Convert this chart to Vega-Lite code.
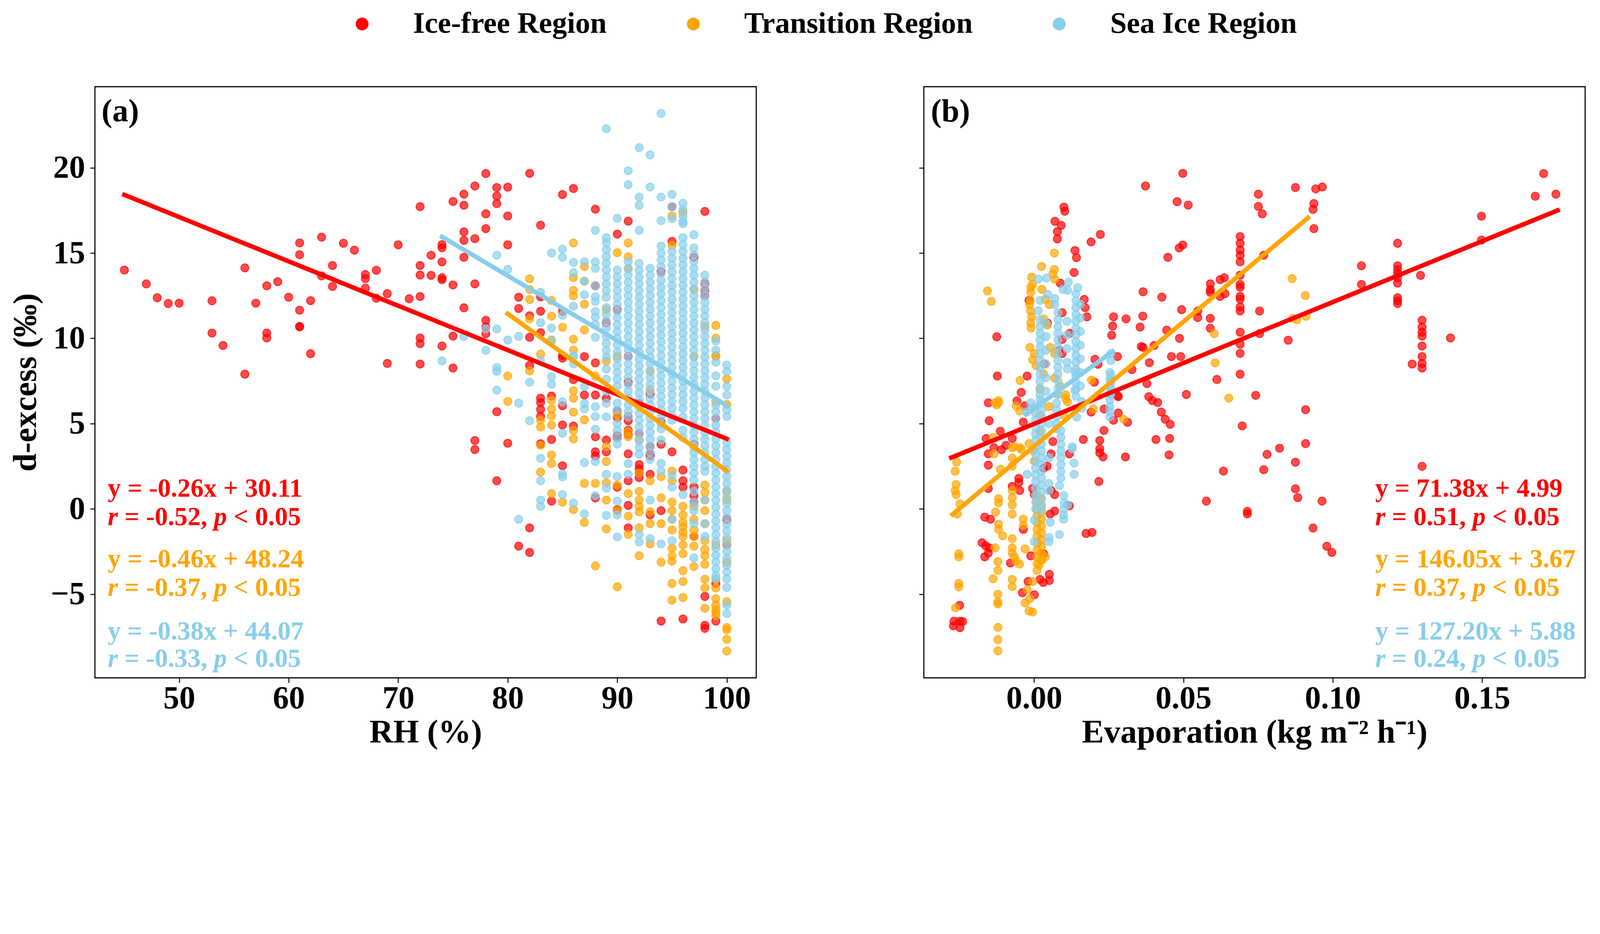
{
  "$schema": "https://vega.github.io/schema/vega-lite/v6.json",
  "description": "d-excess against RH and evaporation for three sea-ice regions, with linear fits.",
  "background": "white",
  "padding": {"left": 22, "top": 23, "right": 10, "bottom": 10},
  "spacing": 412,
  "datasets": {
    "a": [
      {"g":"I","x":45,"y":14.0},{"g":"I","x":47,"y":13.19},{"g":"I","x":48,"y":12.38},{"g":"I","x":49,"y":12.04},{"g":"I","x":50,"y":12.06},
      {"g":"I","x":53,"y":12.2},{"g":"I","x":53,"y":10.31},{"g":"I","x":54,"y":9.58},{"g":"I","x":56,"y":14.13},{"g":"I","x":56,"y":7.9},
      {"g":"I","x":57,"y":12.06},{"g":"I","x":58,"y":13.08},{"g":"I","x":58,"y":10.31},{"g":"I","x":58,"y":10.02},{"g":"I","x":59,"y":13.32},
      {"g":"I","x":60,"y":12.41},{"g":"I","x":61,"y":15.59},{"g":"I","x":61,"y":14.9},{"g":"I","x":61,"y":11.65},{"g":"I","x":61,"y":10.7},
      {"g":"I","x":61,"y":10.67},{"g":"I","x":62,"y":12.21},{"g":"I","x":62,"y":9.1},{"g":"I","x":63,"y":15.93},{"g":"I","x":63,"y":13.66},
      {"g":"I","x":64,"y":14.27},{"g":"I","x":64,"y":13.04},{"g":"I","x":65,"y":15.57},{"g":"I","x":66,"y":15.17},{"g":"I","x":67,"y":13.74},
      {"g":"I","x":67,"y":13.5},{"g":"I","x":67,"y":12.94},{"g":"I","x":68,"y":13.99},{"g":"I","x":68,"y":12.35},{"g":"I","x":69,"y":12.62},
      {"g":"I","x":69,"y":8.53},{"g":"I","x":70,"y":15.48},{"g":"I","x":71,"y":12.32},{"g":"I","x":72,"y":17.72},{"g":"I","x":72,"y":14.27},
      {"g":"I","x":72,"y":13.71},{"g":"I","x":72,"y":12.45},{"g":"I","x":72,"y":10.02},{"g":"I","x":72,"y":9.69},{"g":"I","x":72,"y":8.49},
      {"g":"I","x":73,"y":14.87},{"g":"I","x":73,"y":13.69},{"g":"I","x":74,"y":15.49},{"g":"I","x":74,"y":15.31},{"g":"I","x":74,"y":14.48},
      {"g":"I","x":74,"y":13.55},{"g":"I","x":74,"y":13.44},{"g":"I","x":74,"y":9.55},{"g":"I","x":75,"y":18.02},{"g":"I","x":75,"y":13.13},
      {"g":"I","x":75,"y":10.13},{"g":"I","x":75,"y":8.26},{"g":"I","x":76,"y":18.45},{"g":"I","x":76,"y":17.8},{"g":"I","x":76,"y":16.24},
      {"g":"I","x":76,"y":15.74},{"g":"I","x":76,"y":14.75},{"g":"I","x":76,"y":11.79},{"g":"I","x":77,"y":18.93},{"g":"I","x":77,"y":15.84},
      {"g":"I","x":77,"y":13.19},{"g":"I","x":77,"y":4.01},{"g":"I","x":77,"y":3.48},{"g":"I","x":78,"y":19.66},{"g":"I","x":78,"y":17.3},
      {"g":"I","x":78,"y":16.43},{"g":"I","x":78,"y":11.05},{"g":"I","x":78,"y":10.67},{"g":"I","x":78,"y":10.27},{"g":"I","x":79,"y":18.84},
      {"g":"I","x":79,"y":18.34},{"g":"I","x":79,"y":17.9},{"g":"I","x":79,"y":5.7},{"g":"I","x":79,"y":1.65},{"g":"I","x":80,"y":18.86},
      {"g":"I","x":80,"y":17.17},{"g":"I","x":80,"y":15.48},{"g":"I","x":80,"y":3.85},{"g":"I","x":81,"y":12.41},{"g":"I","x":81,"y":11.75},
      {"g":"I","x":81,"y":-2.18},{"g":"I","x":82,"y":19.67},{"g":"I","x":82,"y":11.32},{"g":"I","x":82,"y":10.06},{"g":"I","x":82,"y":8.41},
      {"g":"I","x":82,"y":-1.11},{"g":"I","x":82,"y":-2.55},{"g":"I","x":83,"y":16.63},{"g":"I","x":83,"y":12.43},{"g":"I","x":83,"y":11.59},
      {"g":"I","x":83,"y":10.33},{"g":"I","x":83,"y":6.49},{"g":"I","x":83,"y":6.24},{"g":"I","x":83,"y":5.83},{"g":"I","x":83,"y":5.42},
      {"g":"I","x":83,"y":3.82},{"g":"I","x":84,"y":6.62},{"g":"I","x":84,"y":4.07},{"g":"I","x":84,"y":0.46},{"g":"I","x":85,"y":18.43},
      {"g":"I","x":85,"y":11.59},{"g":"I","x":85,"y":8.99},{"g":"I","x":85,"y":8.84},{"g":"I","x":85,"y":6.05},{"g":"I","x":85,"y":4.92},
      {"g":"I","x":85,"y":2.53},{"g":"I","x":86,"y":18.78},{"g":"I","x":86,"y":7.58},{"g":"I","x":86,"y":4.86},{"g":"I","x":87,"y":8.93},
      {"g":"I","x":87,"y":6.68},{"g":"I","x":88,"y":17.57},{"g":"I","x":88,"y":13.08},{"g":"I","x":88,"y":8.56},{"g":"I","x":88,"y":6.68},
      {"g":"I","x":88,"y":4.23},{"g":"I","x":88,"y":3.35},{"g":"I","x":88,"y":3.1},{"g":"I","x":88,"y":0.65},{"g":"I","x":89,"y":10.92},
      {"g":"I","x":89,"y":6.49},{"g":"I","x":89,"y":4.04},{"g":"I","x":89,"y":3.35},{"g":"I","x":90,"y":16.11},{"g":"I","x":90,"y":11.68},
      {"g":"I","x":90,"y":5.74},{"g":"I","x":90,"y":5.36},{"g":"I","x":90,"y":4.29},{"g":"I","x":90,"y":4.17},{"g":"I","x":90,"y":1.28},
      {"g":"I","x":90,"y":-0.04},{"g":"I","x":91,"y":16.87},{"g":"I","x":91,"y":8.94},{"g":"I","x":91,"y":7.43},{"g":"I","x":91,"y":5.42},
      {"g":"I","x":91,"y":5.17},{"g":"I","x":91,"y":4.61},{"g":"I","x":91,"y":4.36},{"g":"I","x":91,"y":3.23},{"g":"I","x":91,"y":1.65},
      {"g":"I","x":91,"y":0.21},{"g":"I","x":91,"y":-1.11},{"g":"I","x":92,"y":6.18},{"g":"I","x":92,"y":4.42},{"g":"I","x":92,"y":2.6},
      {"g":"I","x":92,"y":2.35},{"g":"I","x":92,"y":2.09},{"g":"I","x":92,"y":1.84},{"g":"I","x":93,"y":6.74},{"g":"I","x":93,"y":3.66},
      {"g":"I","x":93,"y":3.23},{"g":"I","x":93,"y":3.1},{"g":"I","x":93,"y":2.03},{"g":"I","x":93,"y":-0.35},{"g":"I","x":94,"y":13.9},
      {"g":"I","x":94,"y":5.11},{"g":"I","x":94,"y":3.79},{"g":"I","x":94,"y":-0.1},{"g":"I","x":94,"y":-6.57},{"g":"I","x":95,"y":17.71},
      {"g":"I","x":95,"y":15.68},{"g":"I","x":95,"y":3.35},{"g":"I","x":96,"y":2.28},{"g":"I","x":96,"y":1.65},{"g":"I","x":96,"y":1.28},
      {"g":"I","x":96,"y":-6.45},{"g":"I","x":97,"y":14.75},{"g":"I","x":97,"y":3.79},{"g":"I","x":97,"y":1.28},{"g":"I","x":97,"y":0.78},
      {"g":"I","x":97,"y":0.4},{"g":"I","x":97,"y":-1.61},{"g":"I","x":98,"y":17.44},{"g":"I","x":98,"y":13.22},{"g":"I","x":98,"y":12.81},
      {"g":"I","x":98,"y":12.49},{"g":"I","x":98,"y":-5.13},{"g":"I","x":98,"y":-6.82},{"g":"I","x":98,"y":-7.0},{"g":"I","x":99,"y":5.3},
      {"g":"I","x":99,"y":-4.37},{"g":"I","x":99,"y":-6.57},{"g":"I","x":100,"y":-0.61},{"g":"I","x":100,"y":-2.11},

      {"g":"T","x":80,"y":7.79},{"g":"T","x":80,"y":6.3},
      {"g":"T","x":82,"y":13.49},{"g":"T","x":82,"y":12.86},{"g":"T","x":82,"y":12.27},{"g":"T","x":82,"y":11.14},{"g":"T","x":82,"y":8.09},
      {"g":"T","x":83,"y":9.07},{"g":"T","x":83,"y":5.2},{"g":"T","x":83,"y":4.8},{"g":"T","x":83,"y":3.73},{"g":"T","x":83,"y":2.16},
      {"g":"T","x":84,"y":12.22},{"g":"T","x":84,"y":11.3},{"g":"T","x":84,"y":9.9},{"g":"T","x":84,"y":6.37},{"g":"T","x":84,"y":5.86},
      {"g":"T","x":84,"y":5.45},{"g":"T","x":84,"y":4.92},{"g":"T","x":84,"y":3.16},{"g":"T","x":84,"y":2.66},{"g":"T","x":84,"y":0.9},
      {"g":"T","x":85,"y":10.65},{"g":"T","x":85,"y":0.4},
      {"g":"T","x":86,"y":15.59},{"g":"T","x":86,"y":13.56},{"g":"T","x":86,"y":12.81},{"g":"T","x":86,"y":12.49},{"g":"T","x":86,"y":9.95},
      {"g":"T","x":86,"y":9.31},{"g":"T","x":86,"y":6.93},{"g":"T","x":86,"y":6.49},{"g":"T","x":86,"y":5.67},{"g":"T","x":86,"y":4.61},
      {"g":"T","x":86,"y":4.11},{"g":"T","x":86,"y":-0.04},
      {"g":"T","x":87,"y":14.21},{"g":"T","x":87,"y":13.35},{"g":"T","x":87,"y":12.0},{"g":"T","x":87,"y":10.49},{"g":"T","x":87,"y":5.23},
      {"g":"T","x":87,"y":1.5},{"g":"T","x":87,"y":-0.79},
      {"g":"T","x":88,"y":7.79},{"g":"T","x":88,"y":1.5},{"g":"T","x":88,"y":-3.34},
      {"g":"T","x":89,"y":11.68},{"g":"T","x":89,"y":8.66},{"g":"T","x":89,"y":3.66},{"g":"T","x":89,"y":2.78},{"g":"T","x":89,"y":1.53},
      {"g":"T","x":89,"y":0.52},{"g":"T","x":89,"y":-1.17},
      {"g":"T","x":90,"y":15.02},{"g":"T","x":90,"y":8.94},{"g":"T","x":90,"y":5.49},{"g":"T","x":90,"y":1.4},{"g":"T","x":90,"y":-0.1},
      {"g":"T","x":90,"y":-4.56},
      {"g":"T","x":91,"y":15.59},{"g":"T","x":91,"y":14.78},{"g":"T","x":91,"y":14.07},{"g":"T","x":91,"y":4.54},{"g":"T","x":91,"y":4.23},
      {"g":"T","x":91,"y":0.9},{"g":"T","x":91,"y":-0.42},{"g":"T","x":91,"y":-1.49},
      {"g":"T","x":92,"y":4.04},{"g":"T","x":92,"y":2.09},{"g":"T","x":92,"y":1.03},{"g":"T","x":92,"y":0.52},{"g":"T","x":92,"y":0.15},
      {"g":"T","x":92,"y":-0.17},{"g":"T","x":92,"y":-1.11},{"g":"T","x":92,"y":-2.74},
      {"g":"T","x":93,"y":8.06},{"g":"T","x":93,"y":6.99},{"g":"T","x":93,"y":1.65},{"g":"T","x":93,"y":-0.17},{"g":"T","x":93,"y":-0.86},
      {"g":"T","x":93,"y":-2.05},
      {"g":"T","x":94,"y":1.9},{"g":"T","x":94,"y":0.65},{"g":"T","x":94,"y":-0.86},{"g":"T","x":94,"y":-3.12},
      {"g":"T","x":95,"y":17.17},{"g":"T","x":95,"y":15.45},{"g":"T","x":95,"y":2.22},{"g":"T","x":95,"y":1.65},{"g":"T","x":95,"y":0.4},
      {"g":"T","x":95,"y":-0.1},{"g":"T","x":95,"y":-0.61},{"g":"T","x":95,"y":-1.23},{"g":"T","x":95,"y":-2.3},{"g":"T","x":95,"y":-2.74},
      {"g":"T","x":95,"y":-3.06},{"g":"T","x":95,"y":-4.37},{"g":"T","x":95,"y":-5.35},
      {"g":"T","x":96,"y":17.39},{"g":"T","x":96,"y":0.15},{"g":"T","x":96,"y":-0.35},{"g":"T","x":96,"y":-0.79},{"g":"T","x":96,"y":-1.05},
      {"g":"T","x":96,"y":-1.36},{"g":"T","x":96,"y":-1.61},{"g":"T","x":96,"y":-2.11},{"g":"T","x":96,"y":-2.62},{"g":"T","x":96,"y":-3.62},
      {"g":"T","x":96,"y":-4.25},{"g":"T","x":96,"y":-5.19},
      {"g":"T","x":97,"y":12.86},{"g":"T","x":97,"y":8.94},{"g":"T","x":97,"y":3.66},{"g":"T","x":97,"y":0.15},{"g":"T","x":97,"y":-0.61},
      {"g":"T","x":97,"y":-1.23},{"g":"T","x":97,"y":-1.61},{"g":"T","x":97,"y":-2.18},{"g":"T","x":97,"y":-3.37},
      {"g":"T","x":98,"y":10.71},{"g":"T","x":98,"y":1.4},{"g":"T","x":98,"y":0.96},{"g":"T","x":98,"y":0.52},{"g":"T","x":98,"y":-0.1},
      {"g":"T","x":98,"y":-0.86},{"g":"T","x":98,"y":-1.86},{"g":"T","x":98,"y":-2.37},{"g":"T","x":98,"y":-2.74},{"g":"T","x":98,"y":-3.24},
      {"g":"T","x":98,"y":-4.12},{"g":"T","x":98,"y":-4.63},{"g":"T","x":98,"y":-5.82},
      {"g":"T","x":99,"y":10.76},{"g":"T","x":99,"y":10.01},{"g":"T","x":99,"y":8.99},{"g":"T","x":99,"y":8.94},{"g":"T","x":99,"y":6.3},
      {"g":"T","x":99,"y":-2.11},{"g":"T","x":99,"y":-4.12},{"g":"T","x":99,"y":-4.63},{"g":"T","x":99,"y":-5.26},{"g":"T","x":99,"y":-5.63},
      {"g":"T","x":99,"y":-5.89},{"g":"T","x":99,"y":-6.07},{"g":"T","x":99,"y":-6.25},
      {"g":"T","x":100,"y":7.62},{"g":"T","x":100,"y":6.12},{"g":"T","x":100,"y":1.03},{"g":"T","x":100,"y":0.52},{"g":"T","x":100,"y":-1.86},
      {"g":"T","x":100,"y":-3.12},{"g":"T","x":100,"y":-5.44},{"g":"T","x":100,"y":-6.95},{"g":"T","x":100,"y":-7.08},{"g":"T","x":100,"y":-7.64},
      {"g":"T","x":100,"y":-8.33},

      {"g":"S","x":74,"y":8.68},{"g":"S","x":76,"y":10.1},{"g":"S","x":78,"y":10.56},{"g":"S","x":78,"y":9.3},
      {"g":"S","x":79,"y":14.87},{"g":"S","x":79,"y":10.55},{"g":"S","x":79,"y":8.29},{"g":"S","x":79,"y":8.07},{"g":"S","x":79,"y":6.97},
      {"g":"S","x":80,"y":14.05},{"g":"S","x":80,"y":9.9},
      {"g":"S","x":81,"y":10.12},{"g":"S","x":81,"y":6.2},{"g":"S","x":81,"y":-0.61},
      {"g":"S","x":82,"y":7.43},{"g":"S","x":82,"y":5.17},
      {"g":"S","x":83,"y":12.7},{"g":"S","x":83,"y":10.92},{"g":"S","x":83,"y":8.69},{"g":"S","x":83,"y":2.97},{"g":"S","x":83,"y":1.65},
      {"g":"S","x":83,"y":0.52},{"g":"S","x":83,"y":0.15},
      {"g":"S","x":84,"y":15.0},{"g":"S","x":84,"y":10.6},{"g":"S","x":84,"y":9.85},{"g":"S","x":84,"y":7.75},{"g":"S","x":84,"y":7.31},
      {"g":"S","x":85,"y":15.23},{"g":"S","x":85,"y":14.75},{"g":"S","x":85,"y":11.35},{"g":"S","x":85,"y":6.28},{"g":"S","x":85,"y":4.44},
      {"g":"S","x":85,"y":2.06},{"g":"S","x":85,"y":1.88},{"g":"S","x":85,"y":0.84},
      {"g":"S","x":86,"y":14.45},{"g":"S","x":86,"y":13.85},{"g":"S","x":86,"y":11.89},{"g":"S","x":86,"y":8.99},{"g":"S","x":86,"y":8.92},
      {"g":"S","x":86,"y":8.5},{"g":"S","x":86,"y":0.34},
      {"g":"S","x":87,"y":14.48},{"g":"S","x":87,"y":13.35},{"g":"S","x":87,"y":12.56},{"g":"S","x":87,"y":7.18},{"g":"S","x":87,"y":6.18},
      {"g":"S","x":87,"y":5.86},{"g":"S","x":87,"y":2.72},{"g":"S","x":87,"y":-0.29},
      {"g":"S","x":88,"y":16.33},{"g":"S","x":88,"y":14.48},{"g":"S","x":88,"y":14.1},{"g":"S","x":88,"y":13.08},{"g":"S","x":88,"y":12.43},
      {"g":"S","x":88,"y":12.16},{"g":"S","x":88,"y":11.57},{"g":"S","x":88,"y":11.25},{"g":"S","x":88,"y":10.82},{"g":"S","x":88,"y":10.06},
      {"g":"S","x":88,"y":5.99},{"g":"S","x":88,"y":5.42},{"g":"S","x":88,"y":4.67},{"g":"S","x":88,"y":2.78},{"g":"S","x":88,"y":0.78},
      {"g":"S","x":89,"y":22.29},{"g":"S","x":89,"y":15.9},{"g":"S","x":89,"y":15.6},{"g":"S","x":89,"y":15.2},{"g":"S","x":89,"y":14.8},
      {"g":"S","x":89,"y":14.4},{"g":"S","x":89,"y":14.0},{"g":"S","x":89,"y":13.6},{"g":"S","x":89,"y":13.2},{"g":"S","x":89,"y":12.8},
      {"g":"S","x":89,"y":12.4},{"g":"S","x":89,"y":11.8},{"g":"S","x":89,"y":11.4},{"g":"S","x":89,"y":11.0},{"g":"S","x":89,"y":10.6},
      {"g":"S","x":89,"y":10.1},{"g":"S","x":89,"y":9.7},{"g":"S","x":89,"y":9.3},{"g":"S","x":89,"y":8.9},{"g":"S","x":89,"y":8.2},
      {"g":"S","x":89,"y":7.6},{"g":"S","x":89,"y":6.9},{"g":"S","x":89,"y":6.2},{"g":"S","x":89,"y":5.4},{"g":"S","x":89,"y":2.03},
      {"g":"S","x":89,"y":1.22},{"g":"S","x":89,"y":-0.38},
      {"g":"S","x":90,"y":17.04},{"g":"S","x":90,"y":14.0},{"g":"S","x":90,"y":13.6},{"g":"S","x":90,"y":13.2},{"g":"S","x":90,"y":12.8},
      {"g":"S","x":90,"y":12.4},{"g":"S","x":90,"y":12.0},{"g":"S","x":90,"y":11.6},{"g":"S","x":90,"y":11.2},{"g":"S","x":90,"y":10.8},
      {"g":"S","x":90,"y":10.4},{"g":"S","x":90,"y":10.0},{"g":"S","x":90,"y":9.6},{"g":"S","x":90,"y":9.2},{"g":"S","x":90,"y":8.8},
      {"g":"S","x":90,"y":8.4},{"g":"S","x":90,"y":8.0},{"g":"S","x":90,"y":7.6},{"g":"S","x":90,"y":7.2},{"g":"S","x":90,"y":6.2},
      {"g":"S","x":90,"y":5.8},{"g":"S","x":90,"y":5.0},{"g":"S","x":90,"y":4.6},{"g":"S","x":90,"y":4.2},{"g":"S","x":90,"y":3.8},
      {"g":"S","x":90,"y":1.9},{"g":"S","x":90,"y":0.46},{"g":"S","x":90,"y":-0.35},{"g":"S","x":90,"y":-1.64},
      {"g":"S","x":91,"y":19.82},{"g":"S","x":91,"y":19.0},{"g":"S","x":91,"y":14.5},{"g":"S","x":91,"y":14.1},{"g":"S","x":91,"y":13.7},
      {"g":"S","x":91,"y":13.3},{"g":"S","x":91,"y":12.9},{"g":"S","x":91,"y":12.5},{"g":"S","x":91,"y":12.1},{"g":"S","x":91,"y":11.7},
      {"g":"S","x":91,"y":11.3},{"g":"S","x":91,"y":10.9},{"g":"S","x":91,"y":10.5},{"g":"S","x":91,"y":10.1},{"g":"S","x":91,"y":9.7},
      {"g":"S","x":91,"y":9.3},{"g":"S","x":91,"y":8.9},{"g":"S","x":91,"y":8.5},{"g":"S","x":91,"y":8.1},{"g":"S","x":91,"y":7.7},
      {"g":"S","x":91,"y":7.3},{"g":"S","x":91,"y":6.9},{"g":"S","x":91,"y":6.5},{"g":"S","x":91,"y":6.1},{"g":"S","x":91,"y":5.7},
      {"g":"S","x":91,"y":5.4},{"g":"S","x":91,"y":2.66},{"g":"S","x":91,"y":2.03},
      {"g":"S","x":92,"y":21.18},{"g":"S","x":92,"y":18.28},{"g":"S","x":92,"y":17.79},{"g":"S","x":92,"y":16.33},{"g":"S","x":92,"y":14.4},
      {"g":"S","x":92,"y":14.0},{"g":"S","x":92,"y":13.6},{"g":"S","x":92,"y":13.2},{"g":"S","x":92,"y":12.8},{"g":"S","x":92,"y":12.4},
      {"g":"S","x":92,"y":12.0},{"g":"S","x":92,"y":11.6},{"g":"S","x":92,"y":11.2},{"g":"S","x":92,"y":10.8},{"g":"S","x":92,"y":10.4},
      {"g":"S","x":92,"y":10.0},{"g":"S","x":92,"y":9.6},{"g":"S","x":92,"y":9.2},{"g":"S","x":92,"y":8.8},{"g":"S","x":92,"y":8.4},
      {"g":"S","x":92,"y":8.0},{"g":"S","x":92,"y":7.6},{"g":"S","x":92,"y":7.2},{"g":"S","x":92,"y":6.8},{"g":"S","x":92,"y":6.4},
      {"g":"S","x":92,"y":6.0},{"g":"S","x":92,"y":5.6},{"g":"S","x":92,"y":5.2},{"g":"S","x":92,"y":4.8},{"g":"S","x":92,"y":4.4},
      {"g":"S","x":92,"y":4.0},{"g":"S","x":92,"y":3.6},{"g":"S","x":92,"y":3.2},{"g":"S","x":92,"y":-1.49},{"g":"S","x":92,"y":-1.93},
      {"g":"S","x":93,"y":20.75},{"g":"S","x":93,"y":18.87},{"g":"S","x":93,"y":14.1},{"g":"S","x":93,"y":13.7},{"g":"S","x":93,"y":13.3},
      {"g":"S","x":93,"y":12.9},{"g":"S","x":93,"y":12.5},{"g":"S","x":93,"y":12.1},{"g":"S","x":93,"y":11.7},{"g":"S","x":93,"y":11.3},
      {"g":"S","x":93,"y":10.9},{"g":"S","x":93,"y":10.5},{"g":"S","x":93,"y":10.1},{"g":"S","x":93,"y":9.7},{"g":"S","x":93,"y":9.3},
      {"g":"S","x":93,"y":8.9},{"g":"S","x":93,"y":8.5},{"g":"S","x":93,"y":8.1},{"g":"S","x":93,"y":7.7},{"g":"S","x":93,"y":7.3},
      {"g":"S","x":93,"y":6.9},{"g":"S","x":93,"y":6.5},{"g":"S","x":93,"y":6.1},{"g":"S","x":93,"y":5.7},{"g":"S","x":93,"y":5.3},
      {"g":"S","x":93,"y":4.9},{"g":"S","x":93,"y":4.5},{"g":"S","x":93,"y":4.1},{"g":"S","x":93,"y":3.7},{"g":"S","x":93,"y":3.3},
      {"g":"S","x":93,"y":2.9},{"g":"S","x":93,"y":0.52},{"g":"S","x":93,"y":-1.74},
      {"g":"S","x":94,"y":23.18},{"g":"S","x":94,"y":18.28},{"g":"S","x":94,"y":16.9},{"g":"S","x":94,"y":15.41},{"g":"S","x":94,"y":15.0},
      {"g":"S","x":94,"y":14.6},{"g":"S","x":94,"y":14.2},{"g":"S","x":94,"y":13.8},{"g":"S","x":94,"y":13.4},{"g":"S","x":94,"y":13.0},
      {"g":"S","x":94,"y":12.6},{"g":"S","x":94,"y":12.2},{"g":"S","x":94,"y":11.8},{"g":"S","x":94,"y":11.4},{"g":"S","x":94,"y":11.0},
      {"g":"S","x":94,"y":10.6},{"g":"S","x":94,"y":10.2},{"g":"S","x":94,"y":9.8},{"g":"S","x":94,"y":9.4},{"g":"S","x":94,"y":9.0},
      {"g":"S","x":94,"y":8.6},{"g":"S","x":94,"y":8.2},{"g":"S","x":94,"y":7.8},{"g":"S","x":94,"y":7.4},{"g":"S","x":94,"y":7.0},
      {"g":"S","x":94,"y":6.6},{"g":"S","x":94,"y":6.2},{"g":"S","x":94,"y":5.8},{"g":"S","x":94,"y":5.4},{"g":"S","x":94,"y":5.0},
      {"g":"S","x":94,"y":4.7},{"g":"S","x":94,"y":4.04},{"g":"S","x":94,"y":2.66},{"g":"S","x":94,"y":2.22},{"g":"S","x":94,"y":-2.05},
      {"g":"S","x":95,"y":18.44},{"g":"S","x":95,"y":17.71},{"g":"S","x":95,"y":17.01},{"g":"S","x":95,"y":15.1},{"g":"S","x":95,"y":14.7},
      {"g":"S","x":95,"y":14.3},{"g":"S","x":95,"y":13.9},{"g":"S","x":95,"y":13.5},{"g":"S","x":95,"y":13.1},{"g":"S","x":95,"y":12.7},
      {"g":"S","x":95,"y":12.3},{"g":"S","x":95,"y":11.9},{"g":"S","x":95,"y":11.5},{"g":"S","x":95,"y":11.1},{"g":"S","x":95,"y":10.7},
      {"g":"S","x":95,"y":10.3},{"g":"S","x":95,"y":9.9},{"g":"S","x":95,"y":9.5},{"g":"S","x":95,"y":9.1},{"g":"S","x":95,"y":8.7},
      {"g":"S","x":95,"y":8.3},{"g":"S","x":95,"y":7.9},{"g":"S","x":95,"y":7.5},{"g":"S","x":95,"y":7.1},{"g":"S","x":95,"y":6.7},
      {"g":"S","x":95,"y":6.3},{"g":"S","x":95,"y":5.9},{"g":"S","x":95,"y":5.5},{"g":"S","x":95,"y":5.2},{"g":"S","x":95,"y":1.97},
      {"g":"S","x":95,"y":1.28},{"g":"S","x":95,"y":-0.61},{"g":"S","x":95,"y":-1.86},
      {"g":"S","x":96,"y":17.92},{"g":"S","x":96,"y":17.55},{"g":"S","x":96,"y":17.17},{"g":"S","x":96,"y":16.85},{"g":"S","x":96,"y":16.72},
      {"g":"S","x":96,"y":15.9},{"g":"S","x":96,"y":15.5},{"g":"S","x":96,"y":15.1},{"g":"S","x":96,"y":14.7},{"g":"S","x":96,"y":14.3},
      {"g":"S","x":96,"y":13.9},{"g":"S","x":96,"y":13.5},{"g":"S","x":96,"y":13.1},{"g":"S","x":96,"y":12.7},{"g":"S","x":96,"y":12.3},
      {"g":"S","x":96,"y":11.9},{"g":"S","x":96,"y":11.5},{"g":"S","x":96,"y":11.1},{"g":"S","x":96,"y":10.7},{"g":"S","x":96,"y":10.3},
      {"g":"S","x":96,"y":9.9},{"g":"S","x":96,"y":9.5},{"g":"S","x":96,"y":9.1},{"g":"S","x":96,"y":8.7},{"g":"S","x":96,"y":8.3},
      {"g":"S","x":96,"y":7.9},{"g":"S","x":96,"y":7.5},{"g":"S","x":96,"y":7.1},{"g":"S","x":96,"y":6.7},{"g":"S","x":96,"y":6.3},
      {"g":"S","x":96,"y":5.9},{"g":"S","x":96,"y":5.4},{"g":"S","x":96,"y":4.61},{"g":"S","x":96,"y":4.17},{"g":"S","x":96,"y":0.84},
      {"g":"S","x":97,"y":16.07},{"g":"S","x":97,"y":15.3},{"g":"S","x":97,"y":14.9},{"g":"S","x":97,"y":14.5},{"g":"S","x":97,"y":14.1},
      {"g":"S","x":97,"y":13.7},{"g":"S","x":97,"y":13.3},{"g":"S","x":97,"y":12.9},{"g":"S","x":97,"y":12.5},{"g":"S","x":97,"y":12.1},
      {"g":"S","x":97,"y":11.7},{"g":"S","x":97,"y":11.3},{"g":"S","x":97,"y":10.9},{"g":"S","x":97,"y":10.5},{"g":"S","x":97,"y":10.1},
      {"g":"S","x":97,"y":9.7},{"g":"S","x":97,"y":9.3},{"g":"S","x":97,"y":8.9},{"g":"S","x":97,"y":8.5},{"g":"S","x":97,"y":8.1},
      {"g":"S","x":97,"y":7.7},{"g":"S","x":97,"y":7.3},{"g":"S","x":97,"y":6.9},{"g":"S","x":97,"y":6.5},{"g":"S","x":97,"y":6.1},
      {"g":"S","x":97,"y":5.7},{"g":"S","x":97,"y":5.3},{"g":"S","x":97,"y":4.9},{"g":"S","x":97,"y":4.5},{"g":"S","x":97,"y":4.1},
      {"g":"S","x":97,"y":3.7},{"g":"S","x":97,"y":3.3},{"g":"S","x":97,"y":2.9},{"g":"S","x":97,"y":2.5},{"g":"S","x":97,"y":2.1},
      {"g":"S","x":97,"y":1.7},{"g":"S","x":97,"y":1.03},{"g":"S","x":97,"y":0.4},{"g":"S","x":97,"y":-0.1},{"g":"S","x":97,"y":-0.86},
      {"g":"S","x":97,"y":-2.87},
      {"g":"S","x":98,"y":13.7},{"g":"S","x":98,"y":13.3},{"g":"S","x":98,"y":12.9},{"g":"S","x":98,"y":12.5},{"g":"S","x":98,"y":12.1},
      {"g":"S","x":98,"y":11.7},{"g":"S","x":98,"y":11.3},{"g":"S","x":98,"y":10.9},{"g":"S","x":98,"y":10.5},{"g":"S","x":98,"y":10.1},
      {"g":"S","x":98,"y":9.7},{"g":"S","x":98,"y":9.3},{"g":"S","x":98,"y":8.9},{"g":"S","x":98,"y":8.5},{"g":"S","x":98,"y":8.1},
      {"g":"S","x":98,"y":7.7},{"g":"S","x":98,"y":7.3},{"g":"S","x":98,"y":6.9},{"g":"S","x":98,"y":6.5},{"g":"S","x":98,"y":6.1},
      {"g":"S","x":98,"y":5.7},{"g":"S","x":98,"y":5.3},{"g":"S","x":98,"y":4.9},{"g":"S","x":98,"y":4.5},{"g":"S","x":98,"y":4.1},
      {"g":"S","x":98,"y":3.7},{"g":"S","x":98,"y":3.3},{"g":"S","x":98,"y":2.9},{"g":"S","x":98,"y":2.5},{"g":"S","x":98,"y":2.2},
      {"g":"S","x":98,"y":0.52},{"g":"S","x":98,"y":-0.86},{"g":"S","x":98,"y":-1.61},
      {"g":"S","x":99,"y":9.85},{"g":"S","x":99,"y":9.3},{"g":"S","x":99,"y":8.6},{"g":"S","x":99,"y":7.8},{"g":"S","x":99,"y":7.2},
      {"g":"S","x":99,"y":6.1},{"g":"S","x":99,"y":5.7},{"g":"S","x":99,"y":5.3},{"g":"S","x":99,"y":4.9},{"g":"S","x":99,"y":4.5},
      {"g":"S","x":99,"y":4.1},{"g":"S","x":99,"y":3.7},{"g":"S","x":99,"y":3.3},{"g":"S","x":99,"y":2.9},{"g":"S","x":99,"y":2.5},
      {"g":"S","x":99,"y":2.1},{"g":"S","x":99,"y":1.7},{"g":"S","x":99,"y":1.3},{"g":"S","x":99,"y":0.9},{"g":"S","x":99,"y":0.5},
      {"g":"S","x":99,"y":0.1},{"g":"S","x":99,"y":-0.3},{"g":"S","x":99,"y":-0.7},{"g":"S","x":99,"y":-1.1},{"g":"S","x":99,"y":-1.5},
      {"g":"S","x":99,"y":-1.9},{"g":"S","x":99,"y":-2.3},{"g":"S","x":99,"y":-2.7},{"g":"S","x":99,"y":-3.1},{"g":"S","x":99,"y":-3.5},
      {"g":"S","x":99,"y":-3.9},{"g":"S","x":99,"y":-4.1},
      {"g":"S","x":100,"y":8.44},{"g":"S","x":100,"y":8.06},{"g":"S","x":100,"y":7.18},{"g":"S","x":100,"y":6.68},{"g":"S","x":100,"y":5.8},
      {"g":"S","x":100,"y":5.42},{"g":"S","x":100,"y":3.9},{"g":"S","x":100,"y":3.5},{"g":"S","x":100,"y":3.1},{"g":"S","x":100,"y":2.7},
      {"g":"S","x":100,"y":2.3},{"g":"S","x":100,"y":1.9},{"g":"S","x":100,"y":1.5},{"g":"S","x":100,"y":1.1},{"g":"S","x":100,"y":0.7},
      {"g":"S","x":100,"y":0.3},{"g":"S","x":100,"y":-0.1},{"g":"S","x":100,"y":-0.5},{"g":"S","x":100,"y":-0.9},{"g":"S","x":100,"y":-1.3},
      {"g":"S","x":100,"y":-1.7},{"g":"S","x":100,"y":-2.1},{"g":"S","x":100,"y":-2.5},{"g":"S","x":100,"y":-2.9},{"g":"S","x":100,"y":-3.3},
      {"g":"S","x":100,"y":-3.7},{"g":"S","x":100,"y":-4.1},{"g":"S","x":100,"y":-4.6},{"g":"S","x":100,"y":-5.63},{"g":"S","x":100,"y":-6.13}
    ],
    "b": [
      {"g":"I","x":0.0498,"y":19.67},{"g":"I","x":0.0373,"y":18.93},{"g":"I","x":0.0479,"y":18.01},{"g":"I","x":0.0516,"y":17.81},
      {"g":"I","x":0.01,"y":17.69},{"g":"I","x":0.0103,"y":17.45},{"g":"I","x":0.007,"y":16.86},{"g":"I","x":0.0091,"y":16.62},
      {"g":"I","x":0.0078,"y":16.25},{"g":"I","x":0.0078,"y":15.83},{"g":"I","x":0.0222,"y":16.09},{"g":"I","x":0.0191,"y":15.65},
      {"g":"I","x":0.0137,"y":15.15},{"g":"I","x":0.0142,"y":14.73},{"g":"I","x":0.0498,"y":15.47},{"g":"I","x":0.0486,"y":15.3},
      {"g":"I","x":0.0448,"y":14.75},{"g":"I","x":0.0134,"y":13.86},{"g":"I","x":0.0365,"y":12.73},{"g":"I","x":0.0428,"y":12.42},
      {"g":"I","x":0.0494,"y":11.68},{"g":"I","x":0.0364,"y":11.3},{"g":"I","x":0.0308,"y":11.14},{"g":"I","x":0.0266,"y":11.26},
      {"g":"I","x":0.0263,"y":10.72},{"g":"I","x":0.026,"y":10.18},{"g":"I","x":0.0355,"y":10.66},{"g":"I","x":0.0444,"y":10.48},
      {"g":"I","x":0.0487,"y":10.0},{"g":"I","x":0.0359,"y":9.52},{"g":"I","x":0.0365,"y":9.47},{"g":"I","x":0.0402,"y":9.58},
      {"g":"I","x":0.046,"y":8.93},{"g":"I","x":0.0491,"y":8.93},{"g":"I","x":0.0279,"y":8.93},{"g":"I","x":0.0204,"y":8.77},
      {"g":"I","x":0.0214,"y":8.48},{"g":"I","x":0.0386,"y":8.57},{"g":"I","x":0.0328,"y":8.17},{"g":"I","x":0.0378,"y":7.35},
      {"g":"I","x":0.0168,"y":12.28},{"g":"I","x":0.0171,"y":11.8},{"g":"I","x":0.0177,"y":11.26},{"g":"I","x":-0.0125,"y":10.09},
      {"g":"I","x":-0.0123,"y":7.79},{"g":"I","x":0.0202,"y":7.43},{"g":"I","x":0.0088,"y":13.23},{"g":"I","x":0.0094,"y":11.5},
      {"g":"I","x":0.0094,"y":9.94},{"g":"I","x":0.0094,"y":9.11},{"g":"I","x":-0.0017,"y":12.22},{"g":"I","x":-0.0023,"y":7.79},
      {"g":"I","x":-0.0043,"y":6.83},{"g":"I","x":0.051,"y":6.71},{"g":"I","x":0.0279,"y":6.65},{"g":"I","x":0.0396,"y":6.35},
      {"g":"I","x":0.0045,"y":10.9},{"g":"I","x":0.0085,"y":9.3},{"g":"I","x":0.012,"y":10.3},{"g":"I","x":0.0035,"y":8.5},
      {"g":"I","x":0.1706,"y":19.66},{"g":"I","x":0.1678,"y":18.33},{"g":"I","x":0.1747,"y":18.45},{"g":"I","x":0.1498,"y":17.16},
      {"g":"I","x":0.1498,"y":15.76},{"g":"I","x":0.0875,"y":18.84},{"g":"I","x":0.0943,"y":18.76},{"g":"I","x":0.0965,"y":18.87},
      {"g":"I","x":0.0937,"y":17.9},{"g":"I","x":0.0934,"y":17.56},{"g":"I","x":0.0937,"y":16.43},{"g":"I","x":0.0751,"y":18.45},
      {"g":"I","x":0.0751,"y":17.73},{"g":"I","x":0.0764,"y":17.3},{"g":"I","x":0.069,"y":15.96},{"g":"I","x":0.069,"y":15.57},
      {"g":"I","x":0.069,"y":15.18},{"g":"I","x":0.069,"y":14.87},{"g":"I","x":0.069,"y":14.48},{"g":"I","x":0.069,"y":13.7},
      {"g":"I","x":0.069,"y":13.16},{"g":"I","x":0.069,"y":13.0},{"g":"I","x":0.069,"y":12.46},{"g":"I","x":0.069,"y":12.3},
      {"g":"I","x":0.069,"y":11.84},{"g":"I","x":0.069,"y":11.6},{"g":"I","x":0.069,"y":10.36},{"g":"I","x":0.069,"y":9.66},
      {"g":"I","x":0.069,"y":9.12},{"g":"I","x":0.069,"y":7.9},{"g":"I","x":0.0769,"y":14.87},{"g":"I","x":0.0637,"y":13.55},
      {"g":"I","x":0.0623,"y":13.44},{"g":"I","x":0.059,"y":13.19},{"g":"I","x":0.059,"y":12.85},{"g":"I","x":0.059,"y":12.7},
      {"g":"I","x":0.059,"y":11.17},{"g":"I","x":0.059,"y":10.59},{"g":"I","x":0.0623,"y":12.46},{"g":"I","x":0.0639,"y":12.62},
      {"g":"I","x":0.0548,"y":11.6},{"g":"I","x":0.0548,"y":11.22},{"g":"I","x":0.0755,"y":11.6},{"g":"I","x":0.0755,"y":10.28},
      {"g":"I","x":0.0851,"y":9.89},{"g":"I","x":0.0612,"y":7.59},{"g":"I","x":0.0742,"y":6.66},{"g":"I","x":0.1096,"y":14.25},
      {"g":"I","x":0.1096,"y":13.16},{"g":"I","x":0.1217,"y":15.57},{"g":"I","x":0.1217,"y":14.25},{"g":"I","x":0.1217,"y":14.02},
      {"g":"I","x":0.1217,"y":13.78},{"g":"I","x":0.1217,"y":13.55},{"g":"I","x":0.1217,"y":13.24},{"g":"I","x":0.1217,"y":12.38},
      {"g":"I","x":0.1217,"y":12.2},{"g":"I","x":0.1217,"y":12.04},{"g":"I","x":0.1294,"y":13.69},{"g":"I","x":0.1299,"y":11.06},
      {"g":"I","x":0.1299,"y":10.67},{"g":"I","x":0.1299,"y":10.36},{"g":"I","x":0.1299,"y":10.13},{"g":"I","x":0.1299,"y":9.55},
      {"g":"I","x":0.1299,"y":8.93},{"g":"I","x":0.1299,"y":8.53},{"g":"I","x":0.1299,"y":8.26},{"g":"I","x":0.1299,"y":2.5},
      {"g":"I","x":0.1266,"y":8.49},{"g":"I","x":0.1394,"y":10.02},{"g":"I","x":0.0909,"y":5.82},{"g":"I","x":0.0909,"y":3.83},
      {"g":"I","x":0.0697,"y":4.87},{"g":"I","x":0.0822,"y":3.56},{"g":"I","x":0.078,"y":3.2},{"g":"I","x":0.0875,"y":2.74},
      {"g":"I","x":0.0875,"y":1.18},{"g":"I","x":0.0769,"y":2.3},{"g":"I","x":0.0634,"y":2.22},{"g":"I","x":0.0883,"y":0.66},
      {"g":"I","x":0.0964,"y":0.46},{"g":"I","x":0.0577,"y":0.46},{"g":"I","x":0.0714,"y":-0.14},{"g":"I","x":0.0714,"y":-0.29},
      {"g":"I","x":0.0934,"y":-1.12},{"g":"I","x":0.098,"y":-2.19},{"g":"I","x":0.0997,"y":-2.55},
      {"g":"I","x":-0.0153,"y":6.22},{"g":"I","x":-0.015,"y":5.17},{"g":"I","x":-0.016,"y":4.13},{"g":"I","x":-0.0153,"y":3.23},
      {"g":"I","x":-0.0153,"y":2.57},{"g":"I","x":-0.0153,"y":1.2},{"g":"I","x":-0.0113,"y":4.55},{"g":"I","x":-0.0134,"y":3.59},
      {"g":"I","x":-0.0109,"y":3.47},{"g":"I","x":-0.0094,"y":3.73},{"g":"I","x":-0.0073,"y":4.13},{"g":"I","x":-0.0057,"y":6.34},
      {"g":"I","x":-0.0031,"y":6.04},{"g":"I","x":-0.0036,"y":5.09},{"g":"I","x":-0.0073,"y":1.32},{"g":"I","x":-0.0051,"y":1.79},
      {"g":"I","x":-0.0051,"y":1.55},{"g":"I","x":-0.0048,"y":1.08},{"g":"I","x":-0.0165,"y":-0.48},{"g":"I","x":-0.0146,"y":-0.6},
      {"g":"I","x":-0.0174,"y":-1.98},{"g":"I","x":-0.0162,"y":-2.16},{"g":"I","x":-0.015,"y":-2.28},{"g":"I","x":-0.0153,"y":-2.58},
      {"g":"I","x":-0.0165,"y":-2.81},{"g":"I","x":-0.0249,"y":-5.65},{"g":"I","x":-0.0268,"y":-6.58},{"g":"I","x":-0.027,"y":-6.85},
      {"g":"I","x":-0.0248,"y":-6.58},{"g":"I","x":-0.0239,"y":-6.6},{"g":"I","x":-0.0248,"y":-6.96},{"g":"I","x":-0.0036,"y":-1.2},
      {"g":"I","x":-0.0011,"y":-2.75},{"g":"I","x":-0.0079,"y":-3.17},{"g":"I","x":-0.002,"y":-4.25},{"g":"I","x":-0.0039,"y":-4.91},
      {"g":"I","x":0.0001,"y":-5.03},{"g":"I","x":0.002,"y":-4.13},{"g":"I","x":0.0031,"y":-4.31},{"g":"I","x":0.0051,"y":-3.83},
      {"g":"I","x":0.0051,"y":-4.19},{"g":"I","x":0.0032,"y":-2.63},{"g":"I","x":-0.0005,"y":1.2},{"g":"I","x":0.0001,"y":0.84},
      {"g":"I","x":0.0057,"y":1.08},{"g":"I","x":0.0069,"y":0.84},{"g":"I","x":0.0069,"y":-0.12},{"g":"I","x":0.0054,"y":-0.3},
      {"g":"I","x":0.0032,"y":2.39},{"g":"I","x":0.0044,"y":2.51},{"g":"I","x":0.0057,"y":3.23},{"g":"I","x":0.0063,"y":3.95},
      {"g":"I","x":0.0118,"y":3.23},{"g":"I","x":0.0118,"y":0.18},{"g":"I","x":0.0165,"y":4.07},{"g":"I","x":0.0174,"y":-1.44},
      {"g":"I","x":0.0194,"y":-1.38},{"g":"I","x":0.0191,"y":5.68},{"g":"I","x":0.0217,"y":1.61},{"g":"I","x":0.022,"y":4.01},
      {"g":"I","x":0.022,"y":3.53},{"g":"I","x":0.022,"y":3.29},{"g":"I","x":0.0231,"y":3.05},{"g":"I","x":0.0234,"y":4.6},
      {"g":"I","x":0.0235,"y":5.86},{"g":"I","x":0.0266,"y":5.2},{"g":"I","x":0.0282,"y":6.58},{"g":"I","x":0.0282,"y":5.62},
      {"g":"I","x":0.0306,"y":3.05},{"g":"I","x":0.0313,"y":5.08},{"g":"I","x":0.0384,"y":6.58},{"g":"I","x":0.0414,"y":6.24},
      {"g":"I","x":0.0426,"y":5.68},{"g":"I","x":0.0439,"y":5.26},{"g":"I","x":0.0456,"y":4.96},{"g":"I","x":0.0408,"y":4.07},
      {"g":"I","x":0.0454,"y":4.13},{"g":"I","x":0.0452,"y":3.17},

      {"g":"T","x":-0.0156,"y":12.78},{"g":"T","x":-0.0143,"y":12.16},{"g":"T","x":0.0068,"y":15.0},{"g":"T","x":0.0025,"y":14.21},
      {"g":"T","x":0.0068,"y":14.04},{"g":"T","x":0.0063,"y":13.77},{"g":"T","x":0.0069,"y":13.47},{"g":"T","x":-0.0008,"y":13.59},
      {"g":"T","x":-0.0005,"y":13.17},{"g":"T","x":-0.0011,"y":12.99},{"g":"T","x":-0.0011,"y":12.7},{"g":"T","x":0.0026,"y":12.87},
      {"g":"T","x":-0.0012,"y":12.22},{"g":"T","x":-0.0015,"y":11.98},{"g":"T","x":-0.0012,"y":11.62},{"g":"T","x":0.0038,"y":12.28},
      {"g":"T","x":0.0051,"y":11.98},{"g":"T","x":-0.0008,"y":11.26},{"g":"T","x":-0.0011,"y":10.9},{"g":"T","x":-0.001,"y":10.6},
      {"g":"T","x":0.0032,"y":11.14},{"g":"T","x":0.0044,"y":10.78},{"g":"T","x":-0.0014,"y":9.47},{"g":"T","x":0.0001,"y":9.11},
      {"g":"T","x":-0.0005,"y":8.75},{"g":"T","x":0.0007,"y":8.39},{"g":"T","x":0.0054,"y":9.47},{"g":"T","x":0.0069,"y":9.11},
      {"g":"T","x":0.0032,"y":7.91},{"g":"T","x":0.0069,"y":7.67},{"g":"T","x":0.0088,"y":7.19},{"g":"T","x":-0.0047,"y":7.53},
      {"g":"T","x":0.0192,"y":7.55},{"g":"T","x":0.0078,"y":6.71},{"g":"T","x":0.0106,"y":6.47},{"g":"T","x":-0.0119,"y":6.35},
      {"g":"T","x":-0.0259,"y":2.75},{"g":"T","x":-0.0264,"y":2.21},{"g":"T","x":-0.0261,"y":1.43},{"g":"T","x":-0.0264,"y":1.07},
      {"g":"T","x":-0.0261,"y":0.84},{"g":"T","x":-0.0248,"y":0.3},{"g":"T","x":-0.0257,"y":-0.3},{"g":"T","x":-0.0252,"y":-2.63},
      {"g":"T","x":-0.0252,"y":-2.81},{"g":"T","x":-0.0252,"y":-4.37},{"g":"T","x":-0.0252,"y":-4.57},{"g":"T","x":-0.0263,"y":-5.8},
      {"g":"T","x":-0.0125,"y":6.1},{"g":"T","x":-0.0137,"y":4.19},{"g":"T","x":-0.0134,"y":3.23},{"g":"T","x":-0.0113,"y":2.33},
      {"g":"T","x":-0.0119,"y":0.6},{"g":"T","x":-0.0119,"y":0.36},{"g":"T","x":-0.0129,"y":-0.18},{"g":"T","x":-0.0119,"y":-0.9},
      {"g":"T","x":-0.0119,"y":-1.2},{"g":"T","x":-0.0105,"y":-1.58},{"g":"T","x":-0.013,"y":-2.28},{"g":"T","x":-0.0121,"y":-3.09},
      {"g":"T","x":-0.0121,"y":-3.6},{"g":"T","x":-0.0137,"y":-4.09},{"g":"T","x":-0.0121,"y":-5.0},{"g":"T","x":-0.0121,"y":-5.45},
      {"g":"T","x":-0.0121,"y":-5.57},{"g":"T","x":-0.0121,"y":-6.94},{"g":"T","x":-0.0121,"y":-7.66},{"g":"T","x":-0.0121,"y":-8.32},
      {"g":"T","x":-0.0073,"y":3.59},{"g":"T","x":-0.0073,"y":2.99},{"g":"T","x":-0.0073,"y":2.51},{"g":"T","x":-0.006,"y":6.04},
      {"g":"T","x":-0.0048,"y":5.74},{"g":"T","x":-0.0073,"y":1.07},{"g":"T","x":-0.0073,"y":0.66},{"g":"T","x":-0.0073,"y":0.24},
      {"g":"T","x":-0.0073,"y":-0.3},{"g":"T","x":-0.0073,"y":-1.74},{"g":"T","x":-0.0073,"y":-2.28},{"g":"T","x":-0.0073,"y":-2.58},
      {"g":"T","x":-0.0066,"y":-2.81},{"g":"T","x":-0.006,"y":-3.05},{"g":"T","x":-0.0049,"y":-3.23},{"g":"T","x":-0.0073,"y":-4.13},
      {"g":"T","x":-0.0073,"y":-4.55},{"g":"T","x":-0.0036,"y":-0.6},{"g":"T","x":-0.0036,"y":-0.96},{"g":"T","x":-0.003,"y":-5.51},
      {"g":"T","x":-0.0017,"y":-5.98},{"g":"T","x":-0.0005,"y":-6.04},{"g":"T","x":-0.0023,"y":-4.73},{"g":"T","x":-0.0005,"y":-4.25},
      {"g":"T","x":-0.0014,"y":-5.27},{"g":"T","x":-0.003,"y":-2.34},
      {"g":"T","x":0.001,"y":0.8},{"g":"T","x":0.001,"y":0.4},{"g":"T","x":0.001,"y":0.0},{"g":"T","x":0.001,"y":-0.4},
      {"g":"T","x":0.001,"y":-0.8},{"g":"T","x":0.001,"y":-1.2},{"g":"T","x":0.001,"y":-1.6},{"g":"T","x":0.001,"y":-2.0},
      {"g":"T","x":0.001,"y":-2.4},{"g":"T","x":0.001,"y":-2.8},{"g":"T","x":0.001,"y":-3.2},{"g":"T","x":0.001,"y":-3.6},
      {"g":"T","x":0.0025,"y":0.6},{"g":"T","x":0.0025,"y":0.2},{"g":"T","x":0.0025,"y":-0.2},{"g":"T","x":0.0025,"y":-0.6},
      {"g":"T","x":0.0025,"y":-1.0},{"g":"T","x":0.0025,"y":-1.4},{"g":"T","x":0.0025,"y":-1.8},{"g":"T","x":0.0025,"y":-2.2},
      {"g":"T","x":0.0025,"y":-2.6},{"g":"T","x":0.0025,"y":-3.0},{"g":"T","x":0.0017,"y":-3.29},{"g":"T","x":0.0026,"y":-2.99},
      {"g":"T","x":0.0038,"y":-2.81},{"g":"T","x":-0.0066,"y":3.65},{"g":"T","x":-0.0048,"y":3.59},{"g":"T","x":-0.0042,"y":3.49},
      {"g":"T","x":0.0106,"y":6.7},{"g":"T","x":0.0112,"y":6.28},{"g":"T","x":0.0099,"y":5.5},{"g":"T","x":0.0198,"y":5.86},
      {"g":"T","x":0.03,"y":5.26},{"g":"T","x":-0.0017,"y":3.83},{"g":"T","x":-0.0002,"y":3.41},{"g":"T","x":0.0001,"y":2.81},
      {"g":"T","x":-0.0131,"y":6.22},{"g":"T","x":-0.0119,"y":6.24},{"g":"T","x":0.002,"y":4.5},{"g":"T","x":0.002,"y":5.5},
      {"g":"T","x":0.002,"y":7.0},{"g":"T","x":0.005,"y":6.0},
      {"g":"T","x":0.0864,"y":13.5},{"g":"T","x":0.0908,"y":12.51},{"g":"T","x":0.0866,"y":11.17},{"g":"T","x":0.088,"y":11.09},
      {"g":"T","x":0.0911,"y":11.29},{"g":"T","x":0.0603,"y":10.27},{"g":"T","x":0.0606,"y":8.56},{"g":"T","x":0.0652,"y":6.5},

      {"g":"S","x":0.0014,"y":13.47},{"g":"S","x":0.0041,"y":13.53},{"g":"S","x":0.0115,"y":13.29},{"g":"S","x":0.0112,"y":12.82},
      {"g":"S","x":0.0146,"y":12.97},{"g":"S","x":0.0097,"y":12.87},{"g":"S","x":0.0045,"y":12.58},{"g":"S","x":0.0069,"y":12.34},
      {"g":"S","x":0.0069,"y":11.98},{"g":"S","x":0.002,"y":12.22},{"g":"S","x":0.0014,"y":11.62},
      {"g":"S","x":0.002,"y":11.1},{"g":"S","x":0.002,"y":10.7},{"g":"S","x":0.002,"y":10.3},{"g":"S","x":0.002,"y":9.9},
      {"g":"S","x":0.002,"y":9.5},{"g":"S","x":0.002,"y":9.1},{"g":"S","x":0.002,"y":8.7},{"g":"S","x":0.002,"y":8.3},
      {"g":"S","x":0.002,"y":7.9},{"g":"S","x":0.002,"y":7.5},{"g":"S","x":0.002,"y":7.1},{"g":"S","x":0.002,"y":6.7},
      {"g":"S","x":0.002,"y":6.4},
      {"g":"S","x":0.004,"y":10.9},{"g":"S","x":0.004,"y":10.1},{"g":"S","x":0.004,"y":9.3},{"g":"S","x":0.004,"y":8.5},
      {"g":"S","x":0.004,"y":7.7},{"g":"S","x":0.004,"y":6.9},
      {"g":"S","x":0.008,"y":11.5},{"g":"S","x":0.008,"y":11.1},{"g":"S","x":0.008,"y":10.7},{"g":"S","x":0.008,"y":10.3},
      {"g":"S","x":0.008,"y":9.9},{"g":"S","x":0.008,"y":9.5},{"g":"S","x":0.008,"y":9.1},{"g":"S","x":0.008,"y":8.7},
      {"g":"S","x":0.008,"y":8.3},{"g":"S","x":0.008,"y":7.9},{"g":"S","x":0.008,"y":7.5},{"g":"S","x":0.008,"y":7.1},
      {"g":"S","x":0.008,"y":6.7},
      {"g":"S","x":0.014,"y":12.6},{"g":"S","x":0.014,"y":12.2},{"g":"S","x":0.014,"y":11.8},{"g":"S","x":0.014,"y":11.4},
      {"g":"S","x":0.014,"y":11.0},{"g":"S","x":0.014,"y":10.6},{"g":"S","x":0.014,"y":10.2},{"g":"S","x":0.014,"y":9.8},
      {"g":"S","x":0.014,"y":9.4},{"g":"S","x":0.014,"y":9.0},{"g":"S","x":0.014,"y":8.6},{"g":"S","x":0.014,"y":8.2},
      {"g":"S","x":0.014,"y":7.8},{"g":"S","x":0.014,"y":7.4},{"g":"S","x":0.014,"y":7.0},{"g":"S","x":0.014,"y":6.6},
      {"g":"S","x":0.0155,"y":12.0},{"g":"S","x":0.0155,"y":11.2},{"g":"S","x":0.0155,"y":10.4},{"g":"S","x":0.0155,"y":9.6},
      {"g":"S","x":0.0155,"y":8.8},{"g":"S","x":0.0155,"y":8.0},{"g":"S","x":0.0155,"y":7.2},
      {"g":"S","x":0.011,"y":11.0},{"g":"S","x":0.011,"y":10.2},{"g":"S","x":0.011,"y":9.4},{"g":"S","x":0.011,"y":8.6},
      {"g":"S","x":0.0257,"y":9.11},{"g":"S","x":0.0257,"y":8.69},{"g":"S","x":0.0257,"y":7.85},{"g":"S","x":0.0257,"y":7.43},
      {"g":"S","x":0.0257,"y":7.07},{"g":"S","x":0.0257,"y":6.71},{"g":"S","x":0.0112,"y":8.21},{"g":"S","x":0.0137,"y":8.03},
      {"g":"S","x":0.0137,"y":6.95},
      {"g":"S","x":0.0005,"y":6.0},{"g":"S","x":0.0005,"y":5.6},{"g":"S","x":0.0005,"y":5.2},{"g":"S","x":0.0005,"y":4.8},
      {"g":"S","x":0.0005,"y":4.4},{"g":"S","x":0.0005,"y":4.0},{"g":"S","x":0.0005,"y":3.6},{"g":"S","x":0.0005,"y":3.2},
      {"g":"S","x":0.0005,"y":2.8},{"g":"S","x":0.0005,"y":2.4},{"g":"S","x":0.0005,"y":2.0},{"g":"S","x":0.0005,"y":1.6},
      {"g":"S","x":0.0005,"y":1.2},{"g":"S","x":0.0005,"y":0.8},{"g":"S","x":0.0005,"y":0.4},{"g":"S","x":0.0005,"y":0.0},
      {"g":"S","x":0.0025,"y":6.2},{"g":"S","x":0.0025,"y":5.8},{"g":"S","x":0.0025,"y":5.4},{"g":"S","x":0.0025,"y":5.0},
      {"g":"S","x":0.0025,"y":4.6},{"g":"S","x":0.0025,"y":4.2},{"g":"S","x":0.0025,"y":3.8},{"g":"S","x":0.0025,"y":3.4},
      {"g":"S","x":0.0025,"y":3.0},{"g":"S","x":0.0025,"y":2.6},{"g":"S","x":0.0025,"y":2.2},{"g":"S","x":0.0025,"y":1.8},
      {"g":"S","x":0.0025,"y":1.4},{"g":"S","x":0.0025,"y":1.0},{"g":"S","x":0.0025,"y":0.6},{"g":"S","x":0.0025,"y":0.2},
      {"g":"S","x":0.0025,"y":-0.1},
      {"g":"S","x":-0.0011,"y":6.22},{"g":"S","x":-0.0011,"y":5.86},{"g":"S","x":-0.0023,"y":2.03},{"g":"S","x":0.0001,"y":-0.66},
      {"g":"S","x":0.0001,"y":-1.92},{"g":"S","x":0.0054,"y":-0.78},{"g":"S","x":0.005,"y":-1.68},{"g":"S","x":0.005,"y":-1.92},
      {"g":"S","x":0.0085,"y":-1.5},{"g":"S","x":0.01,"y":0.78},{"g":"S","x":0.01,"y":0.36},{"g":"S","x":0.01,"y":0.0},
      {"g":"S","x":0.0099,"y":-0.36},{"g":"S","x":0.0099,"y":-0.6},{"g":"S","x":0.0112,"y":0.24},{"g":"S","x":0.0128,"y":3.65},
      {"g":"S","x":0.0128,"y":3.53},{"g":"S","x":0.0134,"y":2.69},{"g":"S","x":0.0134,"y":2.03},{"g":"S","x":0.0143,"y":5.38},
      {"g":"S","x":0.0137,"y":5.86},
      {"g":"S","x":0.0075,"y":6.2},{"g":"S","x":0.0075,"y":5.8},{"g":"S","x":0.0075,"y":5.4},{"g":"S","x":0.0075,"y":5.0},
      {"g":"S","x":0.0075,"y":4.7},
      {"g":"S","x":0.009,"y":4.6},{"g":"S","x":0.009,"y":4.2},{"g":"S","x":0.009,"y":3.8},{"g":"S","x":0.009,"y":3.4},
      {"g":"S","x":0.009,"y":3.0},{"g":"S","x":0.009,"y":2.6},{"g":"S","x":0.009,"y":2.2},{"g":"S","x":0.009,"y":1.8},
      {"g":"S","x":0.016,"y":6.3},{"g":"S","x":0.016,"y":5.9},
      {"g":"S","x":0.0254,"y":8.0},{"g":"S","x":0.0254,"y":7.6},{"g":"S","x":0.0254,"y":7.2},{"g":"S","x":0.0254,"y":6.8},
      {"g":"S","x":0.0254,"y":6.4},{"g":"S","x":0.0254,"y":6.0},{"g":"S","x":0.0254,"y":5.7},{"g":"S","x":0.0254,"y":5.4},
      {"g":"S","x":-0.0026,"y":5.68},{"g":"S","x":0.0085,"y":1.37},{"g":"S","x":0.0051,"y":1.07},{"g":"S","x":0.005,"y":5.0},
      {"g":"S","x":0.005,"y":3.0},{"g":"S","x":0.005,"y":1.5}
    ],
    "fa": [
      {"g":"I","x":45,"y":18.41},{"g":"I","x":100,"y":4.11},
      {"g":"T","x":80,"y":11.44},{"g":"T","x":100,"y":2.24},
      {"g":"S","x":74,"y":15.95},{"g":"S","x":100,"y":6.07}
    ],
    "fb": [
      {"g":"I","x":-0.0277,"y":3.01},{"g":"I","x":0.1753,"y":17.5},
      {"g":"T","x":-0.0273,"y":-0.32},{"g":"T","x":0.0917,"y":17.06},
      {"g":"S","x":-0.0027,"y":5.54},{"g":"S","x":0.0263,"y":9.23}
    ],
    "na": [
      {"g":"I","x":43.48,"ye":0.71,"yr":-0.94,"eq":"y = -0.26x + 30.11","rv":"= -0.52,"},
      {"g":"T","x":43.48,"ye":-3.43,"yr":-5.1,"eq":"y = -0.46x + 48.24","rv":"= -0.37,"},
      {"g":"S","x":43.48,"ye":-7.65,"yr":-9.25,"eq":"y = -0.38x + 44.07","rv":"= -0.33,"}
    ],
    "nb": [
      {"g":"I","x":0.1142,"ye":0.71,"yr":-0.94,"eq":"y = 71.38x + 4.99","rv":"= 0.51,"},
      {"g":"T","x":0.1142,"ye":-3.43,"yr":-5.1,"eq":"y = 146.05x + 3.67","rv":"= 0.37,"},
      {"g":"S","x":0.1142,"ye":-7.65,"yr":-9.25,"eq":"y = 127.20x + 5.88","rv":"= 0.24,"}
    ]
  },
  "hconcat": [
    {
      "width": 1693,
      "height": 1514,
      "layer": [
        {
          "data": {"name": "a"},
          "mark": {"type": "circle", "size": 420, "fillOpacity": 0.7, "strokeOpacity": 0.7, "strokeWidth": 2.5},
          "encoding": {
            "x": {"field": "x", "type": "quantitative", "scale": {"domain": [42.31, 102.69], "nice": false, "zero": false},
                  "axis": {"title": "RH (%)", "values": [50, 60, 70, 80, 90, 100]}},
            "y": {"field": "y", "type": "quantitative", "scale": {"domain": [-9.9, 24.75], "nice": false, "zero": false},
                  "axis": {"title": "d-excess (‰)", "values": [-5, 0, 5, 10, 15, 20]}},
            "color": {
              "field": "g", "type": "nominal",
              "scale": {"domain": ["I", "T", "S"], "range": ["#ff0000", "#ffa500", "#87ceeb"]},
              "legend": {
                "orient": "none", "legendX": 646, "legendY": -199, "direction": "horizontal", "title": null,
                "labelExpr": "datum.label == 'I' ? 'Ice-free Region' : datum.label == 'T' ? 'Transition Region' : 'Sea Ice Region'",
                "labelFont": "Liberation Serif", "labelFontWeight": "bold", "labelFontSize": 76.2, "labelColor": "black",
                "labelLimit": 2000, "symbolType": "circle", "symbolSize": 1076, "symbolOpacity": 1, "symbolStrokeWidth": 0,
                "labelOffset": 92.2, "columnPadding": 182.8, "padding": 0
              }
            },
            "stroke": {"field": "g", "type": "nominal",
                       "scale": {"domain": ["I", "T", "S"], "range": ["#ff0000", "#ffa500", "#87ceeb"]}, "legend": null}
          }
        },
        {
          "data": {"name": "fa"},
          "mark": {"type": "line", "strokeWidth": 11.5, "strokeCap": "square"},
          "encoding": {
            "x": {"field": "x", "type": "quantitative", "title": "RH (%)"},
            "y": {"field": "y", "type": "quantitative", "title": "d-excess (‰)"},
            "color": {"field": "g", "type": "nominal", "legend": null}
          }
        },
        {
          "data": {"name": "na"},
          "mark": {"type": "text", "align": "left", "baseline": "alphabetic", "font": "Liberation Serif", "fontWeight": "bold", "fontSize": 67.2},
          "encoding": {
            "x": {"field": "x", "type": "quantitative", "title": "RH (%)"},
            "y": {"field": "ye", "type": "quantitative", "title": "d-excess (‰)"},
            "text": {"field": "eq"},
            "color": {"field": "g", "type": "nominal", "legend": null}
          }
        },
        {
          "data": {"name": "na"},
          "mark": {"type": "text", "align": "left", "baseline": "alphabetic", "font": "Liberation Serif", "fontWeight": "bold", "fontStyle": "italic", "fontSize": 67.2, "text": "r"},
          "encoding": {
            "x": {"field": "x", "type": "quantitative", "title": "RH (%)"},
            "y": {"field": "yr", "type": "quantitative", "title": "d-excess (‰)"},
            "color": {"field": "g", "type": "nominal", "legend": null}
          }
        },
        {
          "data": {"name": "na"},
          "mark": {"type": "text", "align": "left", "baseline": "alphabetic", "font": "Liberation Serif", "fontWeight": "bold", "fontSize": 67.2, "dx": 42.9},
          "encoding": {
            "x": {"field": "x", "type": "quantitative", "title": "RH (%)"},
            "y": {"field": "yr", "type": "quantitative", "title": "d-excess (‰)"},
            "text": {"field": "rv"},
            "color": {"field": "g", "type": "nominal", "legend": null}
          }
        },
        {
          "data": {"name": "na"},
          "mark": {"type": "text", "align": "left", "baseline": "alphabetic", "font": "Liberation Serif", "fontWeight": "bold", "fontStyle": "italic", "fontSize": 67.2, "dx": 271.6, "text": "p"},
          "encoding": {
            "x": {"field": "x", "type": "quantitative", "title": "RH (%)"},
            "y": {"field": "yr", "type": "quantitative", "title": "d-excess (‰)"},
            "color": {"field": "g", "type": "nominal", "legend": null}
          }
        },
        {
          "data": {"name": "na"},
          "mark": {"type": "text", "align": "left", "baseline": "alphabetic", "font": "Liberation Serif", "fontWeight": "bold", "fontSize": 67.2, "dx": 322, "text": "< 0.05"},
          "encoding": {
            "x": {"field": "x", "type": "quantitative", "title": "RH (%)"},
            "y": {"field": "yr", "type": "quantitative", "title": "d-excess (‰)"},
            "color": {"field": "g", "type": "nominal", "legend": null}
          }
        },
        {
          "data": {"values": [{"x": 42.92, "y": 22.72, "t": "(a)"}]},
          "mark": {"type": "text", "align": "left", "baseline": "alphabetic", "font": "Liberation Serif", "fontWeight": "bold", "fontSize": 82, "color": "black"},
          "encoding": {
            "x": {"field": "x", "type": "quantitative", "title": "RH (%)"},
            "y": {"field": "y", "type": "quantitative", "title": "d-excess (‰)"},
            "text": {"field": "t"}
          }
        }
      ]
    },
    {
      "width": 1693,
      "height": 1514,
      "layer": [
        {
          "data": {"name": "b"},
          "mark": {"type": "circle", "size": 420, "fillOpacity": 0.7, "strokeOpacity": 0.7, "strokeWidth": 2.5},
          "encoding": {
            "x": {"field": "x", "type": "quantitative", "scale": {"domain": [-0.0369, 0.1845], "nice": false, "zero": false},
                  "axis": {"title": "Evaporation (kg m⁻² h⁻¹)", "values": [0, 0.05, 0.1, 0.15], "format": ".2f"}},
            "y": {"field": "y", "type": "quantitative", "scale": {"domain": [-9.9, 24.75], "nice": false, "zero": false},
                  "axis": {"title": null, "labels": false, "values": [-5, 0, 5, 10, 15, 20]}},
            "color": {"field": "g", "type": "nominal", "legend": null},
            "stroke": {"field": "g", "type": "nominal", "legend": null}
          }
        },
        {
          "data": {"name": "fb"},
          "mark": {"type": "line", "strokeWidth": 11.5, "strokeCap": "square"},
          "encoding": {
            "x": {"field": "x", "type": "quantitative", "title": "Evaporation (kg m⁻² h⁻¹)"},
            "y": {"field": "y", "type": "quantitative", "title": null},
            "color": {"field": "g", "type": "nominal", "legend": null}
          }
        },
        {
          "data": {"name": "nb"},
          "mark": {"type": "text", "align": "left", "baseline": "alphabetic", "font": "Liberation Serif", "fontWeight": "bold", "fontSize": 67.2},
          "encoding": {
            "x": {"field": "x", "type": "quantitative", "title": "Evaporation (kg m⁻² h⁻¹)"},
            "y": {"field": "ye", "type": "quantitative", "title": null},
            "text": {"field": "eq"},
            "color": {"field": "g", "type": "nominal", "legend": null}
          }
        },
        {
          "data": {"name": "nb"},
          "mark": {"type": "text", "align": "left", "baseline": "alphabetic", "font": "Liberation Serif", "fontWeight": "bold", "fontStyle": "italic", "fontSize": 67.2, "text": "r"},
          "encoding": {
            "x": {"field": "x", "type": "quantitative", "title": "Evaporation (kg m⁻² h⁻¹)"},
            "y": {"field": "yr", "type": "quantitative", "title": null},
            "color": {"field": "g", "type": "nominal", "legend": null}
          }
        },
        {
          "data": {"name": "nb"},
          "mark": {"type": "text", "align": "left", "baseline": "alphabetic", "font": "Liberation Serif", "fontWeight": "bold", "fontSize": 67.2, "dx": 42.9},
          "encoding": {
            "x": {"field": "x", "type": "quantitative", "title": "Evaporation (kg m⁻² h⁻¹)"},
            "y": {"field": "yr", "type": "quantitative", "title": null},
            "text": {"field": "rv"},
            "color": {"field": "g", "type": "nominal", "legend": null}
          }
        },
        {
          "data": {"name": "nb"},
          "mark": {"type": "text", "align": "left", "baseline": "alphabetic", "font": "Liberation Serif", "fontWeight": "bold", "fontStyle": "italic", "fontSize": 67.2, "dx": 249.2, "text": "p"},
          "encoding": {
            "x": {"field": "x", "type": "quantitative", "title": "Evaporation (kg m⁻² h⁻¹)"},
            "y": {"field": "yr", "type": "quantitative", "title": null},
            "color": {"field": "g", "type": "nominal", "legend": null}
          }
        },
        {
          "data": {"name": "nb"},
          "mark": {"type": "text", "align": "left", "baseline": "alphabetic", "font": "Liberation Serif", "fontWeight": "bold", "fontSize": 67.2, "dx": 299.6, "text": "< 0.05"},
          "encoding": {
            "x": {"field": "x", "type": "quantitative", "title": "Evaporation (kg m⁻² h⁻¹)"},
            "y": {"field": "yr", "type": "quantitative", "title": null},
            "color": {"field": "g", "type": "nominal", "legend": null}
          }
        },
        {
          "data": {"values": [{"x": -0.03455, "y": 22.72, "t": "(b)"}]},
          "mark": {"type": "text", "align": "left", "baseline": "alphabetic", "font": "Liberation Serif", "fontWeight": "bold", "fontSize": 82, "color": "black"},
          "encoding": {
            "x": {"field": "x", "type": "quantitative", "title": "Evaporation (kg m⁻² h⁻¹)"},
            "y": {"field": "y", "type": "quantitative", "title": null},
            "text": {"field": "t"}
          }
        }
      ]
    }
  ],
  "resolve": {"scale": {"x": "independent"}},
  "config": {
    "font": "Liberation Serif",
    "view": {"stroke": "black", "strokeWidth": 2.87},
    "axis": {
      "grid": false, "domain": false, "tickColor": "black", "tickWidth": 2.46, "tickSize": 12.3,
      "labelFont": "Liberation Serif", "labelFontWeight": "bold", "labelFontSize": 82, "labelColor": "black",
      "labelFlush": false, "labelOverlap": false,
      "titleFont": "Liberation Serif", "titleFontWeight": "bold", "titleFontSize": 84.4, "titleColor": "black"
    },
    "axisX": {"labelPadding": 0.5, "titlePadding": 5},
    "axisY": {"labelPadding": 13.1, "titlePadding": 20}
  }
}
